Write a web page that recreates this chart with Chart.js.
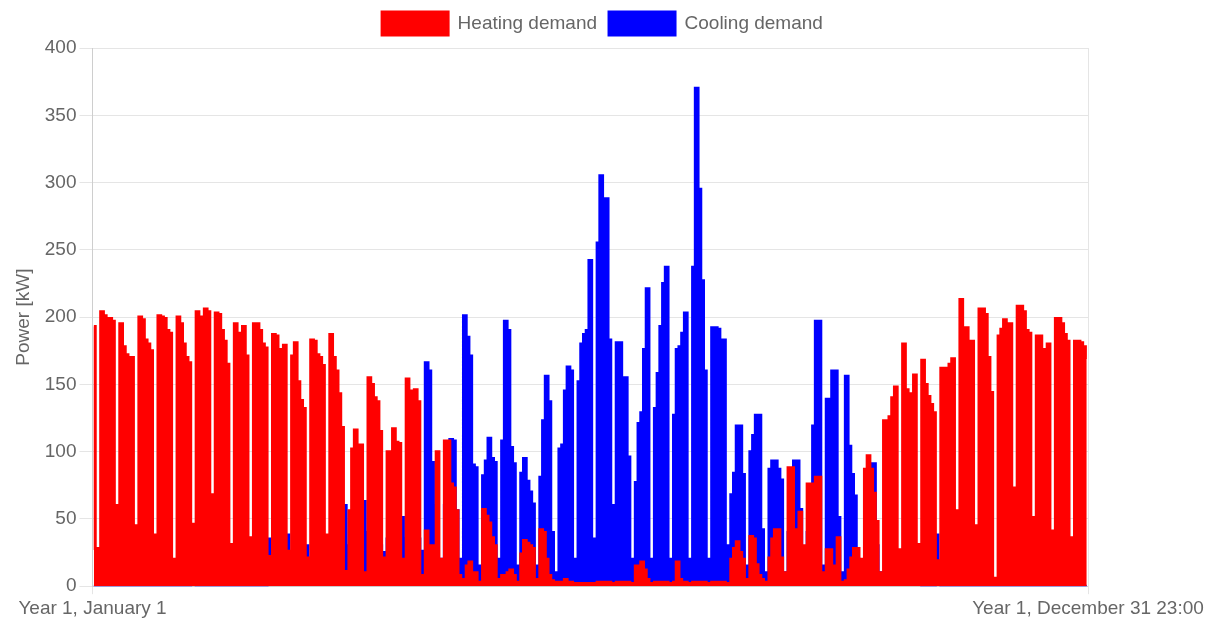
<!DOCTYPE html>
<html>
<head>
<meta charset="utf-8">
<title>Heating and cooling demand</title>
<script src="https://cdn.jsdelivr.net/npm/chart.js@4.4.1/dist/chart.umd.min.js"></script>
<style>
  html, body { margin: 0; padding: 0; background: #ffffff; }
  #wrap { width: 1217px; height: 623px; position: relative; }
</style>
</head>
<body>
<div id="wrap"><canvas id="chart"></canvas></div>
<script>
// Daily peak demand in kW, one value per day of Year 1 (365 days).
// Day 0 is a Friday; every following row is Sat, Sun, Mon, Tue, Wed, Thu, Fri.
const heatingDemand = [
  193,
  28, 20, 204, 201, 193, 199, 197,
  60, 50, 195, 178, 172, 170, 170,
  45, 40, 200, 198, 183, 180, 175,
  38, 30, 201, 200, 199, 190, 188,
  20, 17, 200, 195, 180, 170, 166,
  46, 40, 204, 200, 199, 206, 204,
  68, 60, 203, 202, 190, 182, 165,
  31, 28, 195, 187, 188, 193, 171,
  36, 30, 195, 195, 190, 180, 177,
  22, 20, 187, 186, 176, 172, 179,
  26, 20, 171, 181, 152, 138, 132,
  21, 18, 183, 182, 172, 170, 164,
  38, 30, 187, 170, 160, 143, 118,
  11, 8, 56, 102, 116, 105, 105,
  10, 8, 155, 150, 140, 137, 115,
  21, 15, 100, 100, 117, 107, 106,
  20, 15, 154, 145, 143, 146, 137,
  8, 5, 41, 30, 28, 30, 100,
  20, 10, 108, 108, 76, 73, 56,
  8, 5, 5, 15, 18, 8, 10,
  3, 3, 57, 52, 47, 36, 30,
  5, 3, 8, 8, 10, 12, 8,
  3, 3, 24, 34, 32, 30, 28,
  5, 3, 42, 40, 20, 8, 4,
  3, 2, 3, 3, 5, 3, 3,
  2, 2, 2, 2, 2, 2, 2,
  2, 2, 3, 3, 3, 3, 3,
  2, 2, 3, 3, 3, 3, 3,
  2, 2, 15, 12, 18, 12, 5,
  2, 2, 3, 3, 3, 3, 3,
  2, 2, 3, 18, 5, 3, 3,
  2, 2, 3, 3, 3, 3, 3,
  2, 2, 3, 3, 3, 3, 3,
  2, 2, 20, 28, 33, 25, 20,
  5, 3, 37, 35, 16, 8, 5,
  3, 3, 21, 35, 42, 42, 21,
  10, 8, 88, 88, 42, 31, 55,
  30, 25, 76, 76, 63, 81, 81,
  10, 8, 27, 27, 15, 15, 36,
  3, 3, 4, 12, 21, 28, 28,
  20, 15, 87, 97, 87, 69, 48,
  10, 8, 123, 117, 126, 140, 148,
  27, 20, 180, 146, 143, 135, 157,
  31, 25, 168, 150, 141, 135, 129,
  19, 15, 162, 162, 155, 165, 169,
  56, 45, 213, 190, 192, 182, 182,
  45, 40, 206, 206, 202, 170, 144,
  6, 5, 186, 191, 198, 195, 195,
  73, 60, 208, 208, 204, 190, 188,
  51, 40, 186, 186, 176, 171, 180,
  41, 35, 199, 199, 195, 187, 182,
  36, 30, 182, 182, 181, 178, 170
];

const coolingDemand = [
  0,
  0, 0, 0, 0, 0, 0, 0,
  0, 0, 0, 0, 0, 0, 0,
  0, 0, 0, 0, 0, 0, 0,
  0, 0, 0, 0, 0, 0, 0,
  0, 0, 0, 0, 0, 0, 0,
  11, 5, 0, 0, 0, 0, 0,
  0, 0, 0, 0, 0, 0, 0,
  0, 0, 0, 0, 0, 0, 0,
  0, 0, 0, 0, 0, 0, 0,
  35, 20, 15, 15, 15, 15, 15,
  38, 20, 15, 15, 15, 15, 15,
  30, 15, 20, 20, 20, 20, 20,
  20, 10, 25, 25, 25, 25, 25,
  60, 30, 30, 30, 30, 30, 30,
  63, 40, 30, 30, 30, 30, 30,
  25, 10, 35, 35, 35, 35, 35,
  51, 30, 35, 35, 35, 35, 35,
  26, 15, 166, 160, 92, 60, 20,
  20, 8, 60, 70, 109, 108, 56,
  20, 8, 201, 185, 171, 90, 88,
  15, 5, 82, 93, 110, 95, 92,
  20, 8, 108, 197, 190, 103, 91,
  15, 5, 84, 95, 78, 70, 61,
  15, 5, 81, 123, 156, 137, 40,
  10, 5, 102, 105, 145, 163, 160,
  20, 8, 152, 180, 187, 190, 242,
  35, 10, 255, 305, 288, 288, 183,
  60, 20, 181, 181, 155, 155, 96,
  20, 8, 77, 121, 129, 176, 221,
  20, 8, 132, 158, 193, 225, 237,
  20, 8, 127, 176, 178, 188, 203,
  20, 8, 237, 370, 295, 227, 160,
  20, 8, 192, 192, 191, 180, 183,
  30, 10, 68, 84, 119, 119, 83,
  15, 5, 100, 112, 127, 127, 42,
  10, 5, 87, 93, 93, 87, 79,
  10, 5, 40, 50, 93, 93, 57,
  15, 5, 40, 60, 119, 197, 197,
  15, 5, 139, 139, 160, 160, 51,
  10, 5, 156, 104, 83, 67, 20,
  10, 5, 20, 40, 91, 91, 30,
  10, 5, 10, 10, 10, 10, 10,
  5, 3, 5, 5, 5, 5, 5,
  3, 2, 0, 0, 0, 0, 0,
  38, 10, 0, 0, 0, 0, 0,
  0, 0, 0, 0, 0, 0, 0,
  0, 0, 0, 0, 0, 0, 0,
  0, 0, 0, 0, 0, 0, 0,
  0, 0, 0, 0, 0, 0, 0,
  0, 0, 0, 0, 0, 0, 0,
  0, 0, 0, 0, 0, 0, 0,
  0, 0, 0, 0, 0, 0, 0
];

const seriesNames = ['Heating demand', 'Cooling demand'];
const xTickLabels = ['Year 1, January 1', 'Year 1, December 31 23:00'];
const yTicks = [0, 50, 100, 150, 200, 250, 300, 350, 400];
const lastHour = 8759;

// each day's value is placed at the middle of that day (hours since Jan 1 00:00)
const toPoints = values => values.map((v, d) => ({ x: d * 24 + 12, y: v }));

const FONT = "'Liberation Sans', Arial, Helvetica, sans-serif";
const GREY = '#666666';

// a little extra room between the legend and the plot
const legendGap = {
  id: 'legendGap',
  beforeInit(chart) {
    const fit = chart.legend.fit;
    chart.legend.fit = function () {
      fit.call(this);
      this.height += 3;
    };
  }
};

new Chart(document.getElementById('chart'), {
  type: 'line',
  data: {
    datasets: [
      {
        label: seriesNames[0],
        data: toPoints(heatingDemand),
        borderColor: '#ff0000',
        backgroundColor: '#ff0000',
        fill: 'origin',
        stepped: 'middle',
        borderWidth: 3,
        pointRadius: 0
      },
      {
        label: seriesNames[1],
        data: toPoints(coolingDemand),
        borderColor: '#0000ff',
        backgroundColor: '#0000ff',
        fill: 'origin',
        stepped: 'middle',
        borderWidth: 3,
        pointRadius: 0
      }
    ]
  },
  plugins: [legendGap],
  options: {
    responsive: true,
    maintainAspectRatio: false,
    animation: false,
    layout: { padding: { left: 10, right: 22, top: 0, bottom: 0 } },
    plugins: {
      legend: {
        position: 'top',
        labels: {
          boxWidth: 66,
          boxHeight: 23,
          padding: 12,
          color: GREY,
          font: { family: FONT, size: 19 }
        }
      },
      tooltip: { enabled: false }
    },
    scales: {
      x: {
        type: 'linear',
        min: 0,
        max: lastHour,
        afterBuildTicks: axis => {
          axis.ticks = [{ value: 0 }, { value: lastHour }];
        },
        // keep a wider right margin than the last label alone would need
        afterFit: axis => {
          axis.paddingRight = Math.max(axis.paddingRight || 0, 129);
        },
        ticks: {
          autoSkip: false,
          maxRotation: 0,
          color: GREY,
          font: { family: FONT, size: 19 },
          callback: (value, index) => xTickLabels[index]
        },
        grid: { color: 'rgba(0,0,0,0.1)', tickLength: 8 }
      },
      y: {
        min: yTicks[0],
        max: yTicks[yTicks.length - 1],
        afterBuildTicks: axis => {
          axis.ticks = yTicks.map(v => ({ value: v }));
        },
        afterFit: axis => {
          axis.width += 5;
        },
        ticks: {
          color: GREY,
          padding: 3,
          font: { family: FONT, size: 19 }
        },
        grid: { color: 'rgba(0,0,0,0.1)', tickLength: 13 },
        title: {
          display: true,
          text: 'Power [kW]',
          color: GREY,
          padding: 2,
          font: { family: FONT, size: 19 }
        }
      }
    }
  }
});
</script>
</body>
</html>
